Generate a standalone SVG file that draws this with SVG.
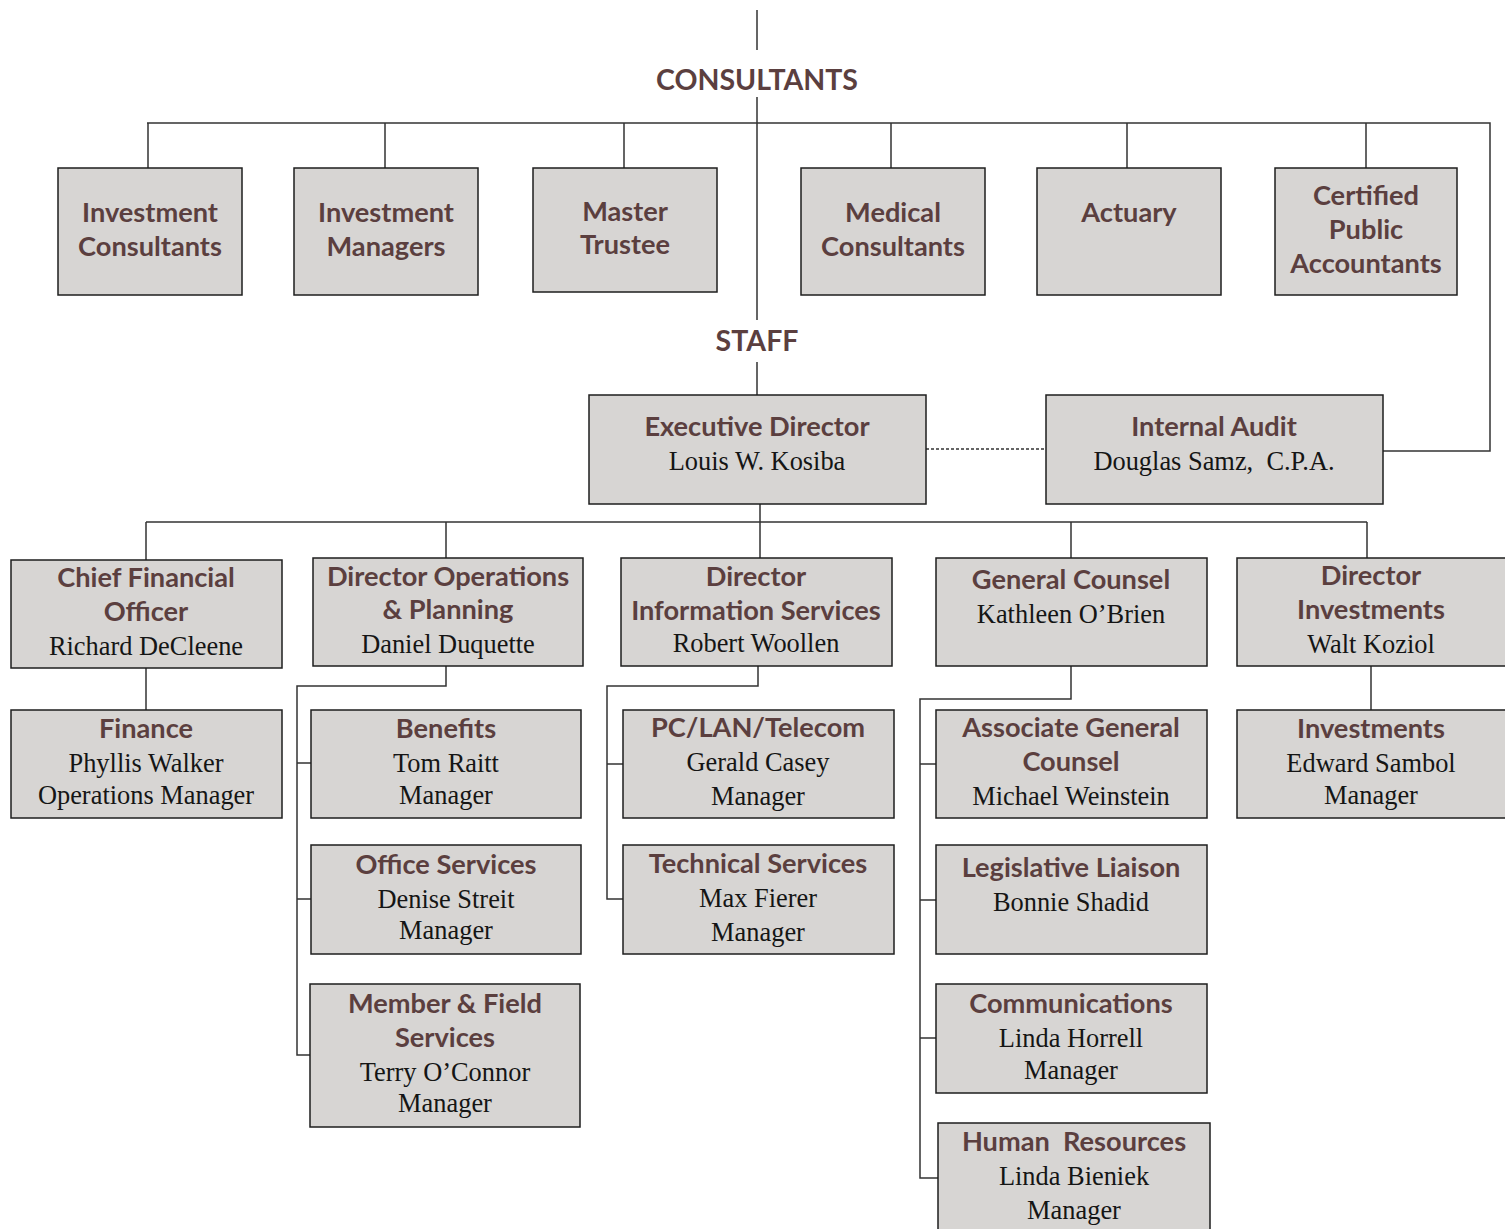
<svg xmlns="http://www.w3.org/2000/svg" width="1505" height="1229" viewBox="0 0 1505 1229">
<style>
.box{fill:#d7d5d3;stroke:#1e1e1e;stroke-width:1.5}
.t{font-family:Lato,"Open Sans",sans-serif;font-weight:bold;font-size:27.2px;fill:#5b3f3f;text-anchor:middle;white-space:pre}
.n{font-family:"Liberation Serif","Times New Roman",serif;font-size:26.4px;fill:#151515;text-anchor:middle;white-space:pre}
.h{font-family:Lato,"Open Sans",sans-serif;font-weight:bold;font-size:28.5px;fill:#5b3f3f;text-anchor:middle}
.c{fill:none;stroke:#333;stroke-width:1.5}
</style>
<rect width="1505" height="1229" fill="#fff"/>
<g id="connectors">
<path class="c" d="M757 10V50M757 97V320M757 362V395"/>
<path class="c" d="M147 123H1490V451H1383"/>
<path class="c" d="M148 123V168M385 123V168M624 123V168M891 123V168M1127 123V168M1366 123V168"/>
<path class="c" d="M926 449H1046" stroke-dasharray="3,2"/>
<path class="c" d="M760 504V522M146 522H1367M146 522V560M446 522V558M760 522V558M1071 522V558M1367 522V558"/>
<path class="c" d="M146 668V710"/>
<path class="c" d="M446 666V686H297V1055H310M297 763H311M297 899H311"/>
<path class="c" d="M758 666V686H607V899H623M607 764H623"/>
<path class="c" d="M1071 666V699H920V1178H938M920 764H936M920 900H936M920 1038H936"/>
<path class="c" d="M1371 666V710"/>
</g>
<text class="h" x="757" y="90">CONSULTANTS</text>
<text class="h" x="757" y="351">STAFF</text>
<g id="investment-consultants"><rect class="box" x="58" y="168" width="184" height="127"/><text class="t" x="150" y="222">Investment</text><text class="t" x="150" y="256">Consultants</text></g>
<g id="investment-managers"><rect class="box" x="294" y="168" width="184" height="127"/><text class="t" x="386" y="222">Investment</text><text class="t" x="386" y="256">Managers</text></g>
<g id="master-trustee"><rect class="box" x="533" y="168" width="184" height="124"/><text class="t" x="625" y="221">Master</text><text class="t" x="625" y="254">Trustee</text></g>
<g id="medical-consultants"><rect class="box" x="801" y="168" width="184" height="127"/><text class="t" x="893" y="222">Medical</text><text class="t" x="893" y="256">Consultants</text></g>
<g id="actuary"><rect class="box" x="1037" y="168" width="184" height="127"/><text class="t" x="1129" y="222">Actuary</text></g>
<g id="cpa"><rect class="box" x="1275" y="168" width="182" height="127"/><text class="t" x="1366" y="205">Certified</text><text class="t" x="1366" y="239">Public</text><text class="t" x="1366" y="273">Accountants</text></g>
<g id="executive-director"><rect class="box" x="589" y="395" width="337" height="109"/><text class="t" x="757" y="436">Executive Director</text><text class="n" x="757" y="470">Louis W. Kosiba</text></g>
<g id="internal-audit"><rect class="box" x="1046" y="395" width="337" height="109"/><text class="t" x="1214" y="436">Internal Audit</text><text class="n" x="1214" y="470">Douglas Samz,  C.P.A.</text></g>
<g id="cfo"><rect class="box" x="11" y="560" width="271" height="108"/><text class="t" x="146" y="587">Chief Financial</text><text class="t" x="146" y="621">Officer</text><text class="n" x="146" y="655">Richard DeCleene</text></g>
<g id="director-operations"><rect class="box" x="313" y="558" width="270" height="108"/><text class="t" x="448" y="586">Director Operations</text><text class="t" x="448" y="619">&amp; Planning</text><text class="n" x="448" y="653">Daniel Duquette</text></g>
<g id="director-is"><rect class="box" x="621" y="558" width="271" height="108"/><text class="t" x="756" y="586">Director</text><text class="t" x="756" y="620">Information Services</text><text class="n" x="756" y="652">Robert Woollen</text></g>
<g id="general-counsel"><rect class="box" x="936" y="558" width="271" height="108"/><text class="t" x="1071" y="589">General Counsel</text><text class="n" x="1071" y="623">Kathleen O’Brien</text></g>
<g id="director-investments"><rect class="box" x="1237" y="558" width="270" height="108"/><text class="t" x="1371" y="585">Director</text><text class="t" x="1371" y="619">Investments</text><text class="n" x="1371" y="653">Walt Koziol</text></g>
<g id="finance"><rect class="box" x="11" y="710" width="271" height="108"/><text class="t" x="146" y="738">Finance</text><text class="n" x="146" y="772">Phyllis Walker</text><text class="n" x="146" y="804">Operations Manager</text></g>
<g id="benefits"><rect class="box" x="311" y="710" width="270" height="108"/><text class="t" x="446" y="738">Benefits</text><text class="n" x="446" y="772">Tom Raitt</text><text class="n" x="446" y="804">Manager</text></g>
<g id="office-services"><rect class="box" x="311" y="845" width="270" height="109"/><text class="t" x="446" y="874">Office Services</text><text class="n" x="446" y="908">Denise Streit</text><text class="n" x="446" y="939">Manager</text></g>
<g id="member-field"><rect class="box" x="310" y="984" width="270" height="143"/><text class="t" x="445" y="1013">Member &amp; Field</text><text class="t" x="445" y="1047">Services</text><text class="n" x="445" y="1081">Terry O’Connor</text><text class="n" x="445" y="1112">Manager</text></g>
<g id="pc-lan"><rect class="box" x="623" y="710" width="271" height="108"/><text class="t" x="758" y="737">PC/LAN/Telecom</text><text class="n" x="758" y="771">Gerald Casey</text><text class="n" x="758" y="805">Manager</text></g>
<g id="technical-services"><rect class="box" x="623" y="845" width="271" height="109"/><text class="t" x="758" y="873">Technical Services</text><text class="n" x="758" y="907">Max Fierer</text><text class="n" x="758" y="941">Manager</text></g>
<g id="associate-gc"><rect class="box" x="936" y="710" width="271" height="108"/><text class="t" x="1071" y="737">Associate General</text><text class="t" x="1071" y="771">Counsel</text><text class="n" x="1071" y="805">Michael Weinstein</text></g>
<g id="legislative"><rect class="box" x="936" y="845" width="271" height="109"/><text class="t" x="1071" y="877">Legislative Liaison</text><text class="n" x="1071" y="911">Bonnie Shadid</text></g>
<g id="communications"><rect class="box" x="936" y="984" width="271" height="109"/><text class="t" x="1071" y="1013">Communications</text><text class="n" x="1071" y="1047">Linda Horrell</text><text class="n" x="1071" y="1079">Manager</text></g>
<g id="human-resources"><rect class="box" x="938" y="1123" width="272" height="110"/><text class="t" x="1074" y="1151">Human  Resources</text><text class="n" x="1074" y="1185">Linda Bieniek</text><text class="n" x="1074" y="1219">Manager</text></g>
<g id="investments"><rect class="box" x="1237" y="710" width="270" height="108"/><text class="t" x="1371" y="738">Investments</text><text class="n" x="1371" y="772">Edward Sambol</text><text class="n" x="1371" y="804">Manager</text></g>
</svg>
